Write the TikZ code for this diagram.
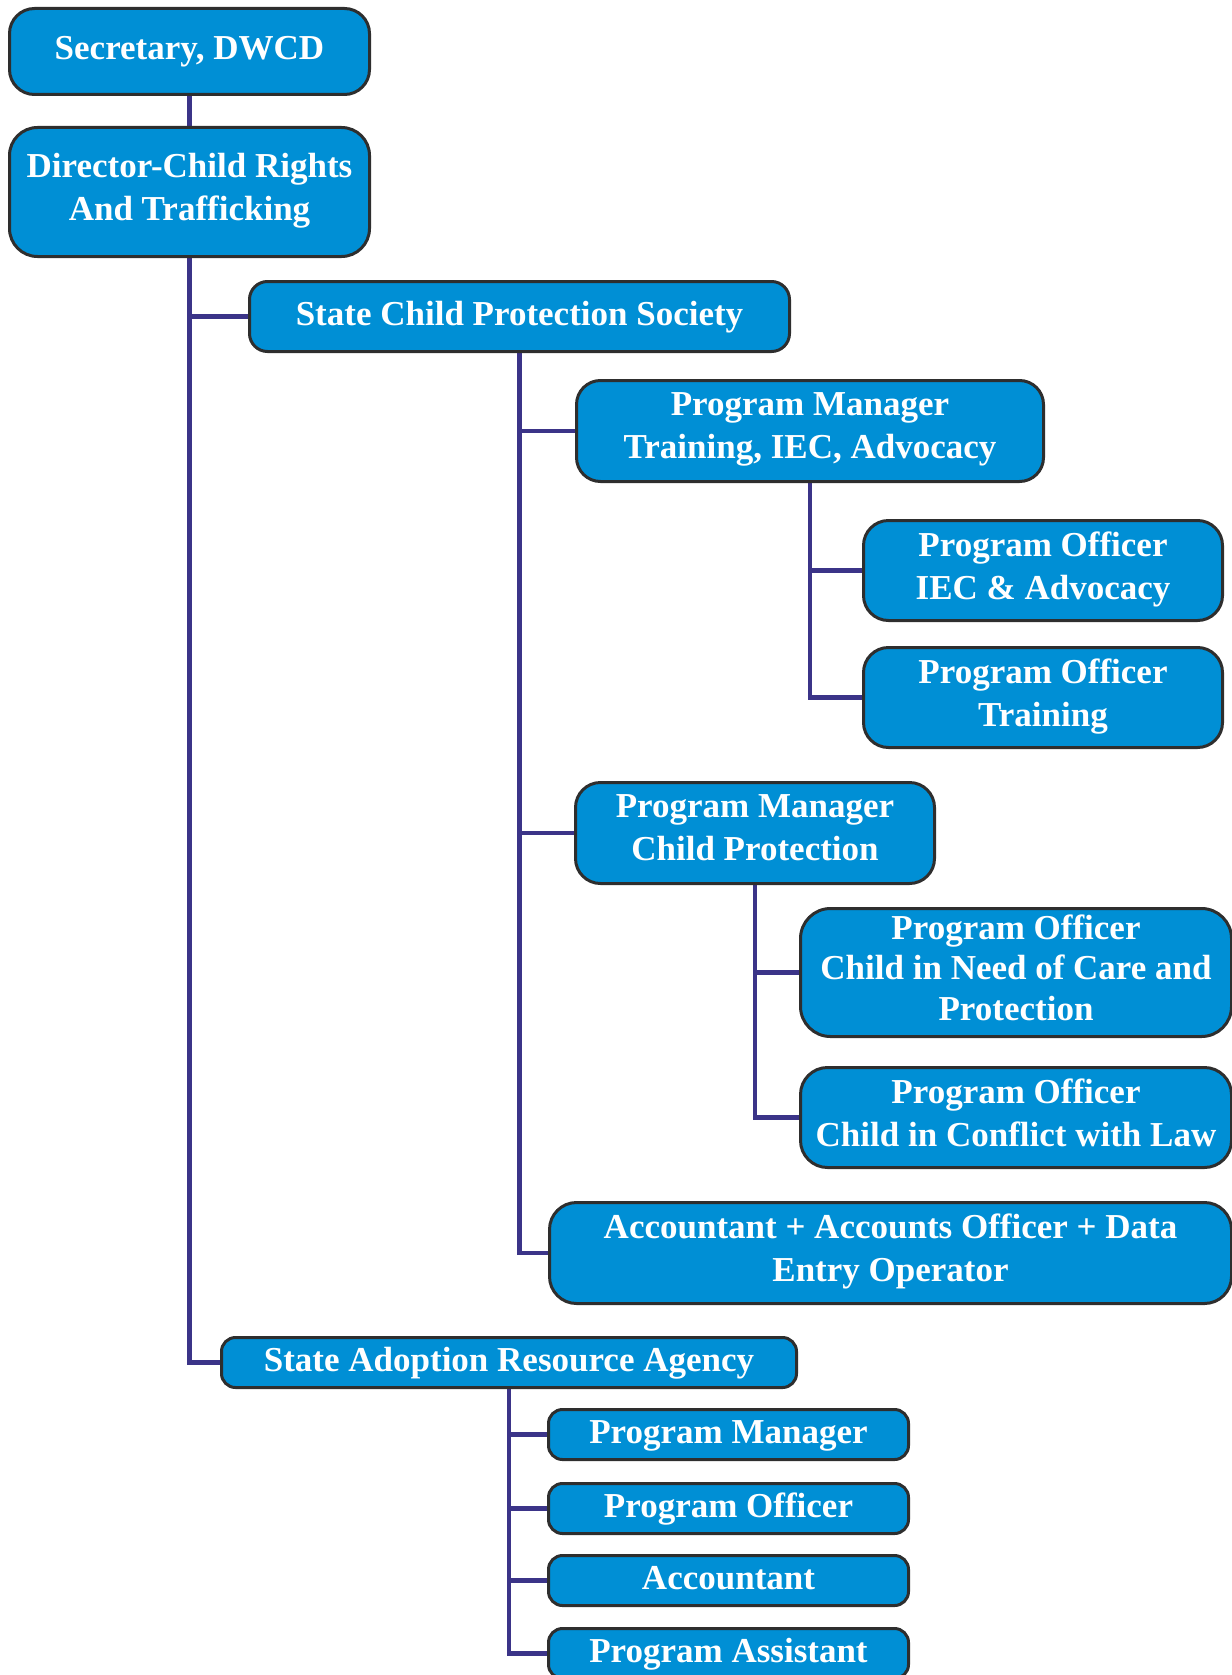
\documentclass[tikz,border=0pt]{standalone}
\usepackage{fontspec}
\setmainfont{Liberation Serif}
\usetikzlibrary{backgrounds}
\definecolor{boxblue}{HTML}{008FD5}
\definecolor{boxedge}{HTML}{2E2E2E}
\definecolor{linkcol}{HTML}{3B3488}
\tikzset{
  orgbox/.style={draw=boxedge, line width=3pt, fill=boxblue, text=white,
    font=\fontsize{35}{43}\selectfont\bfseries, align=center, inner sep=0pt,
    anchor=north west,
    execute at begin node={\rule{0pt}{27pt}},
    execute at end node={\rule[-10pt]{0pt}{0pt}}},
  link/.style={draw=linkcol, line width=4.5pt}
}
\newcommand{\orgnode}[8]{%
  % #1 name, #2 x, #3 y, #4 w, #5 h, #6 radius, #7 text, #8 extra options
  \node[orgbox, minimum width=#4pt, minimum height=#5pt, rounded corners=#6pt, #8] (#1) at (#2,#3) {#7};}
\begin{document}
\begin{tikzpicture}[x=1pt,y=-1pt]
\useasboundingbox (0,0) rectangle (1231,1675);
\orgnode{sec}{8}{7}{360}{86}{25}{Secretary, DWCD}{}
\orgnode{dir}{8}{126}{360}{129}{28}{Director-Child Rights\\And Trafficking}{}
\orgnode{scps}{248}{280}{540}{70}{18}{State Child Protection Society}{}
\orgnode{pmt}{575}{379}{467}{101}{24}{Program Manager\\Training, IEC, Advocacy}{}
\orgnode{poiec}{862}{519}{359}{100}{25}{Program Officer\\IEC \& Advocacy}{}
\orgnode{potr}{862}{646}{359}{100}{25}{Program Officer\\Training}{}
\orgnode{pmcp}{574}{781}{359}{101}{25}{Program Manager\\Child Protection}{}
\orgnode{pocncp}{799}{907}{431}{128}{30}{Program Officer\\Child in Need of Care and\\Protection}{font=\fontsize{35}{40.5}\selectfont\bfseries}
\orgnode{poccl}{799}{1066}{431}{100}{27}{Program Officer\\Child in Conflict with Law}{}
\orgnode{acc}{548}{1201}{682}{101}{27}{Accountant + Accounts Officer + Data\\Entry Operator}{}
\orgnode{sara}{220}{1336}{575}{50}{14}{State Adoption Resource Agency}{}
\orgnode{sapm}{547}{1408}{360}{50}{14}{Program Manager}{}
\orgnode{sapo}{547}{1482}{360}{50}{14}{Program Officer}{}
\orgnode{saacc}{547}{1554}{360}{50}{14}{Accountant}{}
\orgnode{sapa}{547}{1627}{360}{50}{14}{Program Assistant}{}
\begin{scope}[on background layer]
\draw[link] (sec.south) -- (dir.north);
\draw[link] (dir.south) |- (scps.west);
\draw[link] (dir.south) |- (sara.west);
\draw[link] (scps.south) |- (pmt.west);
\draw[link] (scps.south) |- (pmcp.west);
\draw[link] (scps.south) |- (acc.west);
\draw[link] (pmt.south) |- (poiec.west);
\draw[link] (pmt.south) |- (potr.west);
\draw[link] (pmcp.south) |- (pocncp.west);
\draw[link] (pmcp.south) |- (poccl.west);
\draw[link] (sara.south) |- (sapm.west);
\draw[link] (sara.south) |- (sapo.west);
\draw[link] (sara.south) |- (saacc.west);
\draw[link] (sara.south) |- (sapa.west);
\end{scope}
\end{tikzpicture}
\end{document}
